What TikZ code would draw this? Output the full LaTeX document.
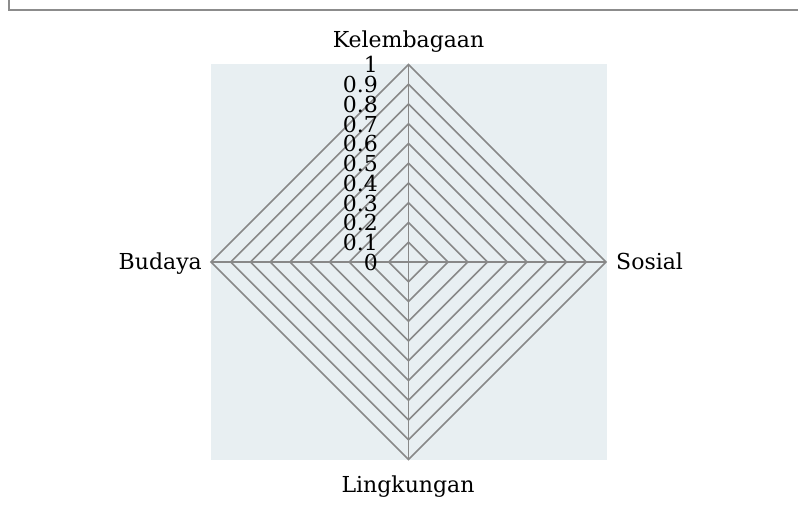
\documentclass[tikz,border=0pt]{standalone}
\usepackage{fontspec}
\setmainfont{DejaVu Serif}
\definecolor{bgblue}{HTML}{E8EFF2}
\definecolor{gridgrey}{HTML}{888888}
\definecolor{framegrey}{HTML}{8C8C8C}
\begin{document}
\begin{tikzpicture}[x=1pt,y=1pt,
  gridline/.style={draw=gridgrey, line width=1.7pt, line join=miter},
  axislabel/.style={font=\fontsize{22}{26}\selectfont, inner sep=0pt},
  ticklabel/.style={font=\fontsize{22}{26}\selectfont, inner sep=0pt, anchor=base east}]
\useasboundingbox (0,0) rectangle (798,508);
\draw[framegrey, line width=2pt] (9,508) -- (9,498) -- (798,498);
\fill[bgblue] (211,48) rectangle (607,444);
\coordinate (c) at (408.5,246);
\coordinate (top) at (408.5,443.5);
\coordinate (bot) at (408.5,48.5);
\coordinate (lft) at (211,246);
\coordinate (rgt) at (606,246);
\foreach \i in {1,...,10} {
  \pgfmathsetmacro\r{19.75*\i}
  \draw[gridline,shift={(c)}] (0,\r) -- (\r,0) -- (0,-\r) -- (-\r,0) -- cycle;
}
\draw[gridline] (top) -- (bot);
\draw[gridline] (lft) -- (rgt);
\foreach \i/\t in {0/0,1/0.1,2/0.2,3/0.3,4/0.4,5/0.5,6/0.6,7/0.7,8/0.8,9/0.9,10/1} {
  \node[ticklabel] (t\i) at (378,{246+19.75*\i-8.5}) {\t};
}
\node[axislabel, anchor=base] (kel) at (408.5,460) {Kelembagaan};
\node[axislabel, anchor=base] (ling) at (408,15) {Lingkungan};
\node[axislabel, anchor=base east] (bud) at (202,238) {Budaya};
\node[axislabel, anchor=base west] (sos) at (616,238) {Sosial};
\end{tikzpicture}
\end{document}
